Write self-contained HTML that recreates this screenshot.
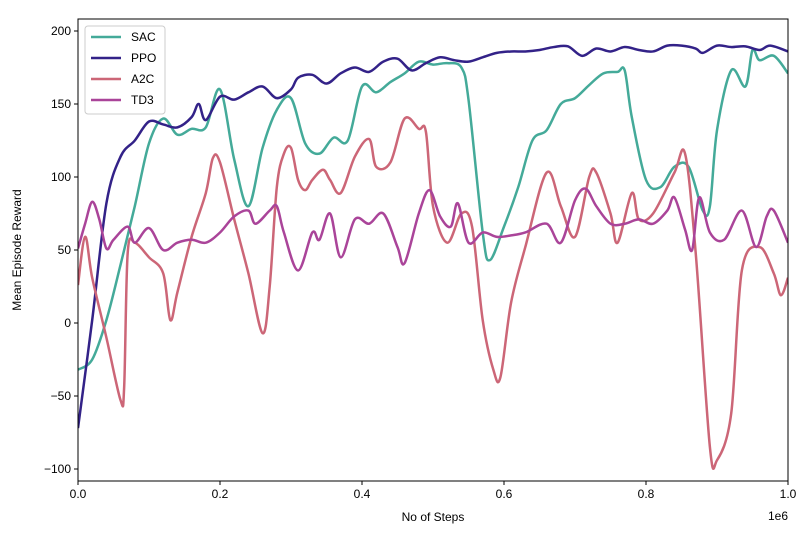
<!DOCTYPE html>
<html><head><meta charset="utf-8"><style>
body{margin:0;background:#fff;}
svg text{font-family:"Liberation Sans","DejaVu Sans",sans-serif;fill:#000;}
</style></head><body>
<svg id="chart" width="812" height="533" xmlns="http://www.w3.org/2000/svg">
<rect width="812" height="533" fill="#fff"/>
<g id="series"></g>
<g id="axes"></g>
</svg>
<script>
const xTicks=[0,0.2,0.4,0.6,0.8,1.0];
const xTickLabels=["0.0","0.2","0.4","0.6","0.8","1.0"];
const yTicks=[-100,-50,0,50,100,150,200];
const yTickLabels=["\u2212100","\u221250","0","50","100","150","200"];
const seriesNames=["SAC","PPO","A2C","TD3"];
const sacX=[0,0.02,0.04,0.06,0.08,0.10,0.12,0.14,0.16,0.18,0.20,0.22,0.24,0.26,0.28,0.30,0.32,0.34,0.36,0.38,0.40,0.42,0.44,0.46,0.48,0.50,0.52,0.54,0.55,0.57,0.58,0.60,0.62,0.64,0.66,0.68,0.70,0.72,0.74,0.76,0.77,0.78,0.80,0.82,0.84,0.86,0.88,0.89,0.90,0.92,0.94,0.95,0.96,0.98,1.0];
const sacY=[-32,-25,2,40,80,123,140,129,133,134,160,112,80,120,146,154,123,116,127,125,162,158,165,171,179,177,178,175,153,62,43,66,93,125,132,150,154,163,171,172,173,141,98,93,107,107,77,80,132,173,162,187,180,183,171];
const ppoX=[0,0.02,0.04,0.06,0.08,0.10,0.12,0.14,0.16,0.17,0.18,0.20,0.22,0.24,0.26,0.28,0.30,0.31,0.33,0.35,0.37,0.39,0.41,0.43,0.45,0.47,0.49,0.51,0.53,0.55,0.57,0.59,0.61,0.63,0.65,0.67,0.69,0.71,0.73,0.75,0.77,0.79,0.81,0.83,0.85,0.87,0.88,0.90,0.92,0.94,0.96,0.975,1.0];
const ppoY=[-72,2,82,114,125,138,136,134,141,150,139,155,153,158,162,154,160,168,170,164,171,175,172,179,181,173,178,182,180,179,182,185,186,186,187,189,189.5,183,188,186,189,187,186,190,190,188,185,190,189,189.5,187,190,186];
const a2cX=[0,0.01,0.02,0.04,0.06,0.065,0.07,0.08,0.10,0.12,0.13,0.14,0.16,0.18,0.19,0.20,0.22,0.24,0.26,0.27,0.28,0.29,0.30,0.31,0.32,0.33,0.345,0.355,0.37,0.39,0.41,0.42,0.44,0.46,0.48,0.49,0.50,0.52,0.54,0.555,0.57,0.585,0.595,0.61,0.63,0.66,0.68,0.70,0.72,0.73,0.75,0.76,0.78,0.79,0.81,0.84,0.855,0.87,0.89,0.90,0.92,0.935,0.96,0.98,0.99,1.0];
const a2cY=[26,59,31,-10,-53,-44,48,55,45,34,2,21,59,89,113,110,71,34,-7,25,93,116,120,98,91,98,105,98,89,114,126,107,110,140,133,131,80,55,75,66,2,-32,-37,14,52,103,80,59,100,103,75,55,89,71,75,103,116,48,-85,-94,-62,36,52,34,19,31];
const td3X=[0,0.01,0.02,0.03,0.04,0.05,0.07,0.08,0.10,0.12,0.14,0.16,0.18,0.20,0.22,0.24,0.25,0.27,0.28,0.29,0.31,0.33,0.34,0.355,0.37,0.39,0.41,0.43,0.45,0.46,0.48,0.495,0.51,0.525,0.535,0.55,0.57,0.59,0.61,0.63,0.66,0.68,0.70,0.715,0.73,0.75,0.77,0.79,0.81,0.83,0.84,0.855,0.865,0.875,0.89,0.91,0.935,0.955,0.97,0.98,1.0];
const td3Y=[51,68,83,71,51,57,66,55,65,50,55,57,55,62,73,77,68,77,80,62,36,62,57,75,45,71,68,75,52,41,75,91,73,66,82,55,62,59,60,62,68,55,84,92,80,68,68,71,68,77,86,64,50,86,62,57,77,52,73,77,55];
const colors=["#44aa99","#332288","#cc6677","#aa4499"];
const L=78,R=788,T=19,B=481;
const sx=v=>L+(R-L)*v;
const sy=v=>323-v*1.46;
const NS="http://www.w3.org/2000/svg";
function mk(tag,attrs,parent){const e=document.createElementNS(NS,tag);for(const k in attrs)e.setAttribute(k,attrs[k]);parent.appendChild(e);return e;}
function smooth(xs,ys){const p=xs.map((x,i)=>[sx(x),sy(ys[i])]);let d="M"+p[0][0]+","+p[0][1];
for(let i=0;i<p.length-1;i++){const p0=p[Math.max(0,i-1)],p1=p[i],p2=p[i+1],p3=p[Math.min(p.length-1,i+2)];
const c1=[p1[0]+(p2[0]-p0[0])/6,p1[1]+(p2[1]-p0[1])/6],c2=[p2[0]-(p3[0]-p1[0])/6,p2[1]-(p3[1]-p1[1])/6];
d+=` C${c1[0]},${c1[1]} ${c2[0]},${c2[1]} ${p2[0]},${p2[1]}`;}return d;}
const sg=document.getElementById("series");
const data=[[sacX,sacY],[ppoX,ppoY],[a2cX,a2cY],[td3X,td3Y]];
const clip=mk("clipPath",{id:"clip"},sg);mk("rect",{x:L,y:T,width:R-L,height:B-T},clip);
data.forEach((d,i)=>{const p=mk("path",{d:smooth(d[0],d[1]),fill:"none",stroke:colors[i],"stroke-width":2.5,"clip-path":"url(#clip)"},sg);

});
const ax=document.getElementById("axes");
const fr=mk("rect",{x:L,y:T,width:R-L,height:B-T,fill:"none",stroke:"#000","stroke-width":1},ax);


xTicks.forEach((v,i)=>{mk("line",{x1:sx(v),x2:sx(v),y1:B,y2:B+4,stroke:"#000"},ax);
const t=mk("text",{x:sx(v),y:B+17,"text-anchor":"middle","font-size":12},ax);t.textContent=xTickLabels[i];

});
yTicks.forEach((v,i)=>{mk("line",{x1:L-4,x2:L,y1:sy(v),y2:sy(v),stroke:"#000"},ax);
const t=mk("text",{x:L-7,y:sy(v)+4,"text-anchor":"end","font-size":12},ax);t.textContent=yTickLabels[i];

});
let t=mk("text",{x:433,y:521,"text-anchor":"middle","font-size":12},ax);t.textContent="No of Steps";


t=mk("text",{x:788,y:520,"text-anchor":"end","font-size":12},ax);t.textContent="1e6";


t=mk("text",{x:21,y:250,"text-anchor":"middle","font-size":12,transform:"rotate(-90 21 250)"},ax);t.textContent="Mean Episode Reward";


const lg=mk("g",{},ax);


mk("rect",{x:85,y:26,width:80,height:88,rx:3,fill:"#fff","fill-opacity":0.85,stroke:"#ccc"},lg);
seriesNames.forEach((n,i)=>{const y=37+i*21;
mk("line",{x1:91,x2:121,y1:y,y2:y,stroke:colors[i],"stroke-width":2.5},lg);
const e=mk("text",{x:131,y:y+4,"font-size":12},lg);e.textContent=n;

});
</script>
</body></html>
